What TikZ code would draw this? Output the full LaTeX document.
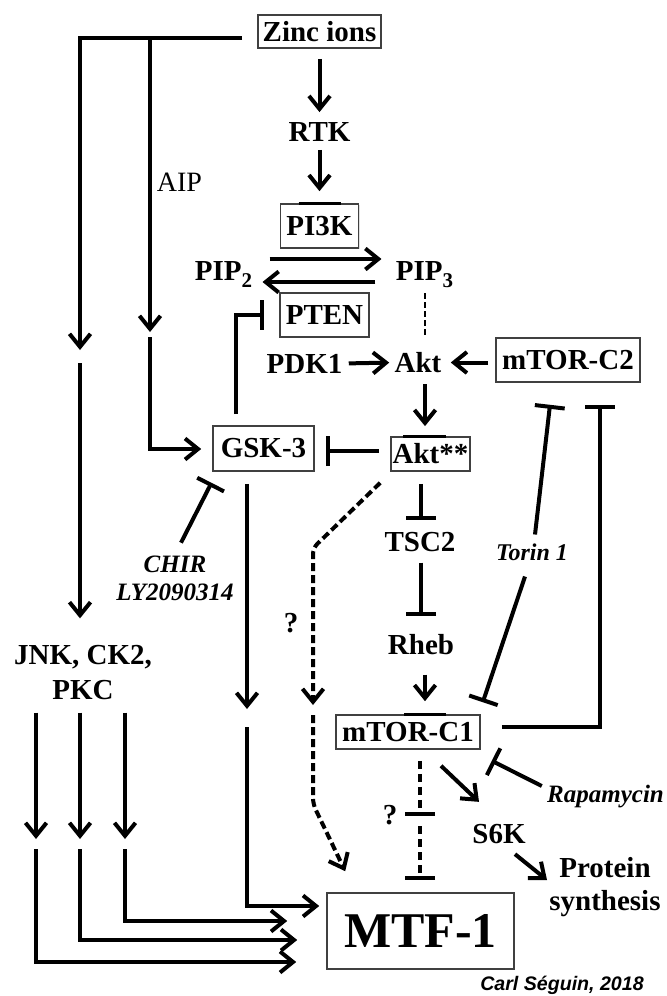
\documentclass[tikz,border=0pt]{standalone}
\usepackage{fontspec}
\setmainfont{Liberation Serif}
\newfontfamily\signfont{Liberation Sans}
\usetikzlibrary{positioning,calc,arrows.meta,shadows}

\newcommand{\sub}[1]{\raisebox{-3.5pt}{\fontsize{10.5}{10.5}\selectfont #1}}

\begin{document}
\begin{tikzpicture}[x=0.5pt, y=-0.5pt,
    lbl/.style={font=\fontsize{14.5}{17.5}\selectfont\bfseries, inner sep=0pt},
    box/.style={lbl, draw=black!75, line width=0.8pt, fill=white, drop shadow={shadow xshift=0.7pt, shadow yshift=-0.7pt, opacity=0.25}},
    drug/.style={font=\fontsize{12.5}{14}\selectfont\bfseries\itshape, inner sep=0pt, align=center},
    act/.style={line width=2pt, -{Straight Barb[length=6.5pt, width=10.5pt]}},
    inh/.style={line width=2pt, -{Bar[width=15pt]}},
    dact/.style={act, dash pattern=on 4pt off 2pt},
    dinh/.style={inh, dash pattern=on 4pt off 2.5pt},
    dline/.style={line width=1pt, dash pattern=on 3pt off 1.5pt},
    topbar/.style={line width=1.5pt}]
    \useasboundingbox (0,0) rectangle (667,996);

    % main column
    \node [box, minimum width=61.5pt, minimum height=16.5pt] (zinc) at (319.5,31.5) {Zinc ions};
    \node [lbl, below of=zinc, node distance=50.25pt] (rtk) {RTK};
    \node [box, below of=rtk, node distance=47pt, minimum width=39pt, minimum height=22pt] (pik) {PI3K};
    \node [lbl, anchor=base] (pip2) at (223.5,280) {PIP\sub{2}};
    \node [lbl, anchor=base] (pip3) at (424.5,280) {PIP\sub{3}};
    \node [box, minimum width=44.5pt, minimum height=22pt] (pten) at (324.5,315) {PTEN};
    \node [lbl] (pdk) at (304.5,363.5) {PDK1};
    \node [lbl] (akt) at (418,362.5) {Akt};
    \node [box, minimum width=72pt, minimum height=22pt] (mtorc2) at (568,360) {mTOR-C2};
    \node [box, minimum width=50.5pt, minimum height=22.5pt] (gsk) at (263.5,448.5) {GSK-3};
    \node [box, minimum width=39.5pt, minimum height=17pt] (aktp) at (430.5,454) {Akt**};
    \node [lbl] (tsc) at (420,542.5) {TSC2};
    \node [lbl] (rheb) at (421,645) {Rheb};
    \node [box, minimum width=72pt, minimum height=17pt] (mtorc1) at (408,732) {mTOR-C1};
    \node [lbl] (s6k) at (499,834) {S6K};
    \node [lbl, align=center, font=\fontsize{14.5}{16.5}\selectfont\bfseries] (protein) at (605,887) {Protein\\synthesis};
    \node [box, minimum width=93.5pt, minimum height=38pt, font=\fontsize{25}{28}\selectfont\bfseries] (mtf) at (420.5,931) {MTF-1};
    \node [lbl, align=center] (jnk) at (83,673) {JNK, CK2,\\PKC};

    % side labels
    \node [inner sep=0pt, font=\fontsize{14}{16}\selectfont] (aip) at (179.5,182.5) {AIP};
    \node [drug] (chir) at (175,578.5) {CHIR\\LY2090314};
    \node [drug, font=\fontsize{12}{14}\selectfont\bfseries\itshape] (torin) at (532,552.5) {Torin 1};
    \node [drug, anchor=base] (rapa) at (605.5,802) {Rapamycin};
    \node [lbl] (q1) at (291,623) {?};
    \node [lbl] (q2) at (390,815) {?};
    \node [inner sep=0pt, font=\signfont\fontsize{9.8}{11}\selectfont\bfseries\itshape] (sign) at (562,985) {Carl Séguin, 2018};

    % break points
    \coordinate (a0) at (150,38);
    \coordinate (a1) at (150,332);
    \coordinate (a2) at (150,337);
    \coordinate (j1) at (80,350);
    \coordinate (j2) at (80,363);
    \coordinate (g1) at (247,709);
    \coordinate (g2) at (247,727);
    \coordinate (d1) at (313,548);
    \coordinate (d2) at (313,705);
    \coordinate (d3) at (313,715);
    \coordinate (d4) at (313,804);
    \coordinate (k1) at (36,839);
    \coordinate (k2) at (80,839);
    \coordinate (k3) at (125,839);
    \coordinate (l1) at (36,849);
    \coordinate (l2) at (80,849);
    \coordinate (l3) at (125,849);

    % PI3K / Akt branch
    \draw [act, shorten <=5pt, shorten >=5pt] (rtk |- zinc.south) -- (rtk.north);
    \draw [act, shorten <=4pt, shorten >=6pt] (rtk.south) -- (rtk |- pik.north);
    \draw [act] ($(pip2.base east)+(17,-21)$) -- ($(pip3.base west)+(-14,-21)$);
    \draw [act] ($(pip3.base west)+(-20,2)$) -- ($(pip2.base east)+(10,2)$);
    \draw [dline] ($(pip3.base)+(0,13)$) -- ($(pip3.base)+(0,55)$);
    \draw [act, shorten <=3pt, shorten >=2.5pt] (pdk.east) -- (akt.west);
    \draw [act, shorten <=3.5pt, shorten >=4.5pt] (mtorc2.west |- akt.east) -- (akt.east);
    \draw [act] ($(akt.south)+(7,11)$) -- ($(akt.south)+(7,53)$);
    \draw [inh] ($(gsk.north)+(-27.5,-11)$) |- ($(pten.west)+(-15,0)$);
    \draw [inh] ($(aktp.west)+(-11,-3)$) -- ($(gsk.east)+(11,2.5)$);
    \draw [inh] ($(aktp.south)+(-9.5,12)$) -- ($(tsc.north)+(1,-12)$);
    \draw [inh] ($(tsc.south)+(1,10)$) -- ($(tsc.south)+(1,63)$);
    \draw [act] ($(rheb.south)+(4,19)$) -- ($(mtorc1.north)+(17,-13)$);

    % mTOR
    \draw [inh] ($(torin)+(-7,24)$) -- ($(mtorc1.north east)+(2,-12)$);
    \draw [inh] ($(torin)+(3,-18)$) -- ($(mtorc2.south)+(-18,22)$);
    \draw [inh] ($(mtorc1.east)+(21,-5)$) -| ($(mtorc2.south)+(32,22)$);
    \draw [inh] ($(rapa.base west)+(-5,-16)$) -- ($(mtorc1.south east)+(11,11)$);
    \draw [act] ($(mtorc1.south)+(33,16)$) -- ($(s6k.north)+(-20,-22)$);
    \draw [act] ($(s6k.south)+(16,10)$) -- ($(protein.west)+(-2,-7)$);
    \draw [dinh] ($(mtorc1.south)+(12,11)$) -- ($(mtorc1.south)+(12,66)$);
    \draw [dinh] ($(mtf.north)+(-0.5,-66)$) -- ($(mtf.north)+(-0.5,-12)$);

    % GSK-3 and Akt** to MTF-1
    \draw [act] ($(gsk.south)+(-16.5,12)$) -- (g1);
    \draw [act] (g2) |- ($(mtf.west)+(-7,-25)$);
    \draw [inh] ($(chir.north)+(6,-13)$) -- ($(gsk.south)+(-52,11)$);
    \draw [dact, rounded corners=3pt] ($(aktp.south west)+(-10,11)$) -- (d1) -- (d2);
    \draw [dact, rounded corners=3pt] (d3) -- (d4) -- ($(mtf.north west)+(19,-21)$);

    % zinc side branches
    \draw [act] ($(zinc.west)+(-15,6.5)$) -| (j1);
    \draw [act] (a0) -- (a1);
    \draw [act] (a2) |- ($(gsk.west)+(-11,0.5)$);
    \draw [act] (j2) -- ($(jnk.north)+(-3,-27)$);
    \draw [act] ($(jnk.south)+(-47,12)$) -- (k1);
    \draw [act] ($(jnk.south)+(-3,12)$) -- (k2);
    \draw [act] ($(jnk.south)+(42,12)$) -- (k3);
    \draw [act] (l1) |- ($(mtf.west)+(-30,31)$);
    \draw [act] (l2) |- ($(mtf.west)+(-29,9)$);
    \draw [act] (l3) |- ($(mtf.west)+(-39,-10)$);

    % marks on box tops
    \draw [topbar] ($(pik.north)+(-21,0)$) -- ($(pik.north)+(21,0)$);
    \draw [topbar] ($(aktp.north)+(-27.5,0)$) -- ($(aktp.north)+(15.5,0)$);
    \draw [topbar] ($(mtorc1.north)+(-4,0)$) -- ($(mtorc1.north)+(38,0)$);
\end{tikzpicture}
\end{document}
